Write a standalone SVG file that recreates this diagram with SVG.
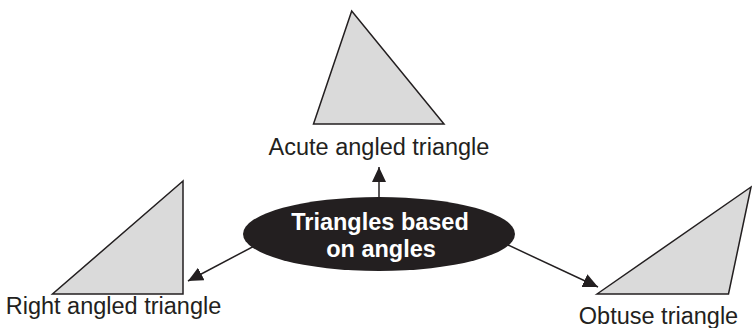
<svg xmlns="http://www.w3.org/2000/svg" width="752" height="328" viewBox="0 0 752 328">
<style>
.tri{fill:#dadada;stroke:#231f20;stroke-width:1.5;stroke-linejoin:miter}
.lbl{font-family:"Liberation Sans",Arial,sans-serif;font-size:23.5px;fill:#231f20;text-anchor:middle}
.hub{font-family:"Liberation Sans",Arial,sans-serif;font-size:23.5px;font-weight:bold;fill:#ffffff;text-anchor:middle}
.conn{stroke:#231f20;stroke-width:1.5;fill:none}
</style>
<defs>
<marker id="ah" markerUnits="userSpaceOnUse" markerWidth="16" markerHeight="14" refX="15" refY="7" orient="auto">
<path d="M0,0 L15,7 L0,14 Z" fill="#231f20"/>
</marker>
</defs>
<rect width="752" height="328" fill="#ffffff"/>
<g id="connectors">
<line class="conn" x1="379" y1="197" x2="379" y2="167" marker-end="url(#ah)"/>
<line class="conn" x1="258" y1="244" x2="188" y2="281" marker-end="url(#ah)"/>
<line class="conn" x1="508" y1="245" x2="598" y2="287" marker-end="url(#ah)"/>
</g>
<g id="hub">
<ellipse cx="379" cy="234" rx="136" ry="37" fill="#231f20"/>
<text class="hub" x="380" y="230">Triangles based</text>
<text class="hub" x="381" y="257">on angles</text>
</g>
<g id="acute">
<polygon class="tri" points="351.7,11 313.5,124 444,124"/>
<text class="lbl" x="379" y="155">Acute angled triangle</text>
</g>
<g id="right">
<polygon class="tri" points="183,181 52.5,294 183,294"/>
<text class="lbl" x="113.5" y="314">Right angled triangle</text>
</g>
<g id="obtuse">
<polygon class="tri" points="597,294 751,187 728.5,294"/>
<text class="lbl" x="658.5" y="324">Obtuse triangle</text>
</g>
</svg>
